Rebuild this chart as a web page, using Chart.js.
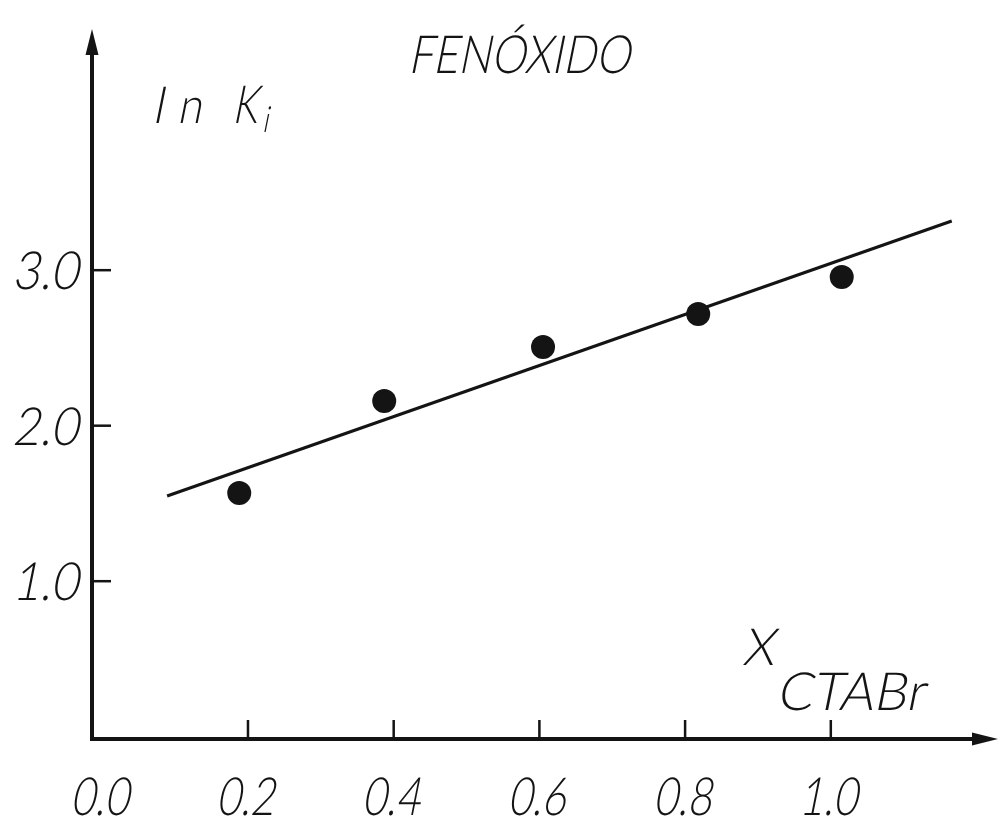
<!DOCTYPE html>
<html>
<head>
<meta charset="utf-8">
<script src="https://cdn.jsdelivr.net/npm/chart.js@4/dist/chart.umd.min.js"></script>
<style>
  html, body { margin: 0; padding: 0; background: #fff; }
  #wrap { width: 1001px; height: 821px; }
</style>
</head>
<body>
<div id="wrap"><canvas id="c" width="1001" height="821"></canvas></div>
<script>
// ln Ki against the CTABr mole fraction (phenoxide)
const xTickValues = [0.0, 0.2, 0.4, 0.6, 0.8, 1.0];
const xTickLabels = ['0.0', '0.2', '0.4', '0.6', '0.8', '1.0'];
const yTickValues = [1.0, 2.0, 3.0];
const yTickLabels = ['1.0', '2.0', '3.0'];

const xCTABr = [0.188, 0.387, 0.605, 0.818, 1.015];
const lnKi   = [1.567, 2.159, 2.506, 2.718, 2.956];

// fitted straight line (end points)
const fitX = [0.089, 1.166];
const fitY = [1.548, 3.316];

const titleText = 'FENÓXIDO';
const INK = '#141414';
const FONT = 'Lato, "DejaVu Sans", sans-serif';
const SLANT = 0.2;

// slanted, narrow lettering: scaled so the capitals are capPx tall and the string widthPx wide
function letter(ctx, text, x, y, capPx, widthPx, align, spacing) {
  const size = capPx / 0.72;
  ctx.save();
  ctx.font = '300 ' + size + 'px ' + FONT;
  if (spacing) ctx.letterSpacing = spacing + 'px';
  const w = ctx.measureText(text).width;
  const sx = widthPx ? widthPx / w : 1;
  ctx.translate(x, y);
  ctx.transform(1, 0, -SLANT, 1, 0, 0);
  ctx.scale(sx, 1);
  ctx.fillStyle = INK;
  ctx.textBaseline = 'alphabetic';
  ctx.textAlign = align || 'left';
  ctx.fillText(text, 0, 0);
  ctx.restore();
}

const axesPlugin = {
  id: 'axesPlugin',
  beforeDatasetsDraw(chart) {
    const ctx = chart.ctx;
    const xs = chart.scales.x, ys = chart.scales.y;
    const x0 = xs.getPixelForValue(xs.min);
    const y0 = ys.getPixelForValue(ys.min);
    const xEnd = xs.getPixelForValue(xs.max);
    const yEnd = ys.getPixelForValue(ys.max);
    ctx.save();
    ctx.strokeStyle = INK;
    ctx.fillStyle = INK;
    ctx.lineCap = 'butt';
    ctx.lineWidth = 4;
    // axis lines
    ctx.beginPath();
    ctx.moveTo(x0, yEnd + 20);
    ctx.lineTo(x0, y0);
    ctx.lineTo(xEnd - 20, y0);
    ctx.stroke();
    // arrow heads
    ctx.beginPath();
    ctx.moveTo(x0, yEnd);
    ctx.lineTo(x0 + 6.5, yEnd + 26);
    ctx.lineTo(x0 - 6.5, yEnd + 26);
    ctx.closePath();
    ctx.fill();
    ctx.beginPath();
    ctx.moveTo(xEnd, y0);
    ctx.lineTo(xEnd - 26, y0 - 6.5);
    ctx.lineTo(xEnd - 26, y0 + 6.5);
    ctx.closePath();
    ctx.fill();
    // tick marks
    ctx.lineWidth = 2.5;
    xTickValues.forEach(v => {
      if (v === 0) return;
      const px = xs.getPixelForValue(v);
      ctx.beginPath();
      ctx.moveTo(px, y0);
      ctx.lineTo(px, y0 - 19);
      ctx.stroke();
    });
    yTickValues.forEach(v => {
      const py = ys.getPixelForValue(v);
      ctx.beginPath();
      ctx.moveTo(x0, py);
      ctx.lineTo(x0 + 19, py);
      ctx.stroke();
    });
    ctx.restore();

    // tick labels
    xTickValues.forEach((v, i) => {
      const px = xs.getPixelForValue(v);
      letter(ctx, xTickLabels[i], px - 3, y0 + 76, 38, 58, 'center');
    });
    yTickValues.forEach((v, i) => {
      const py = ys.getPixelForValue(v);
      letter(ctx, yTickLabels[i], x0 - 14, py + 19, 38, 66, 'right');
    });

    // title and axis names
    letter(ctx, titleText, 408, 73, 38, 222, 'left');
    letter(ctx, 'l', 152, 123, 36, null, 'left');
    letter(ctx, 'n', 177, 123, 36, 24, 'left');
    letter(ctx, 'K', 232, 123, 38, 25, 'left');
    letter(ctx, 'i', 262, 132, 26, 6, 'left');
    letter(ctx, 'X', 742, 665, 37, 32, 'left');
    letter(ctx, 'CTABr', 776, 710, 38, 148, 'left');
  }
};

new Chart(document.getElementById('c'), {
  type: 'scatter',
  data: {
    datasets: [
      {
        label: 'ajuste',
        type: 'line',
        data: fitX.map((x, i) => ({ x: x, y: fitY[i] })),
        borderColor: INK,
        borderWidth: 3.2,
        pointRadius: 0,
        fill: false,
        tension: 0
      },
      {
        label: 'ln Ki',
        data: xCTABr.map((x, i) => ({ x: x, y: lnKi[i] })),
        backgroundColor: INK,
        borderColor: INK,
        borderWidth: 0,
        pointRadius: 12,
        pointHoverRadius: 12
      }
    ]
  },
  options: {
    responsive: false,
    animation: false,
    events: [],
    layout: { autoPadding: false, padding: { left: 92, right: 3, top: 29, bottom: 82 } },
    plugins: { legend: { display: false }, tooltip: { enabled: false } },
    scales: {
      x: { type: 'linear', display: false, min: -0.0141, max: 1.2295 },
      y: { type: 'linear', display: false, min: -0.0148, max: 4.551 }
    }
  },
  plugins: [axesPlugin]
});
</script>
</body>
</html>
